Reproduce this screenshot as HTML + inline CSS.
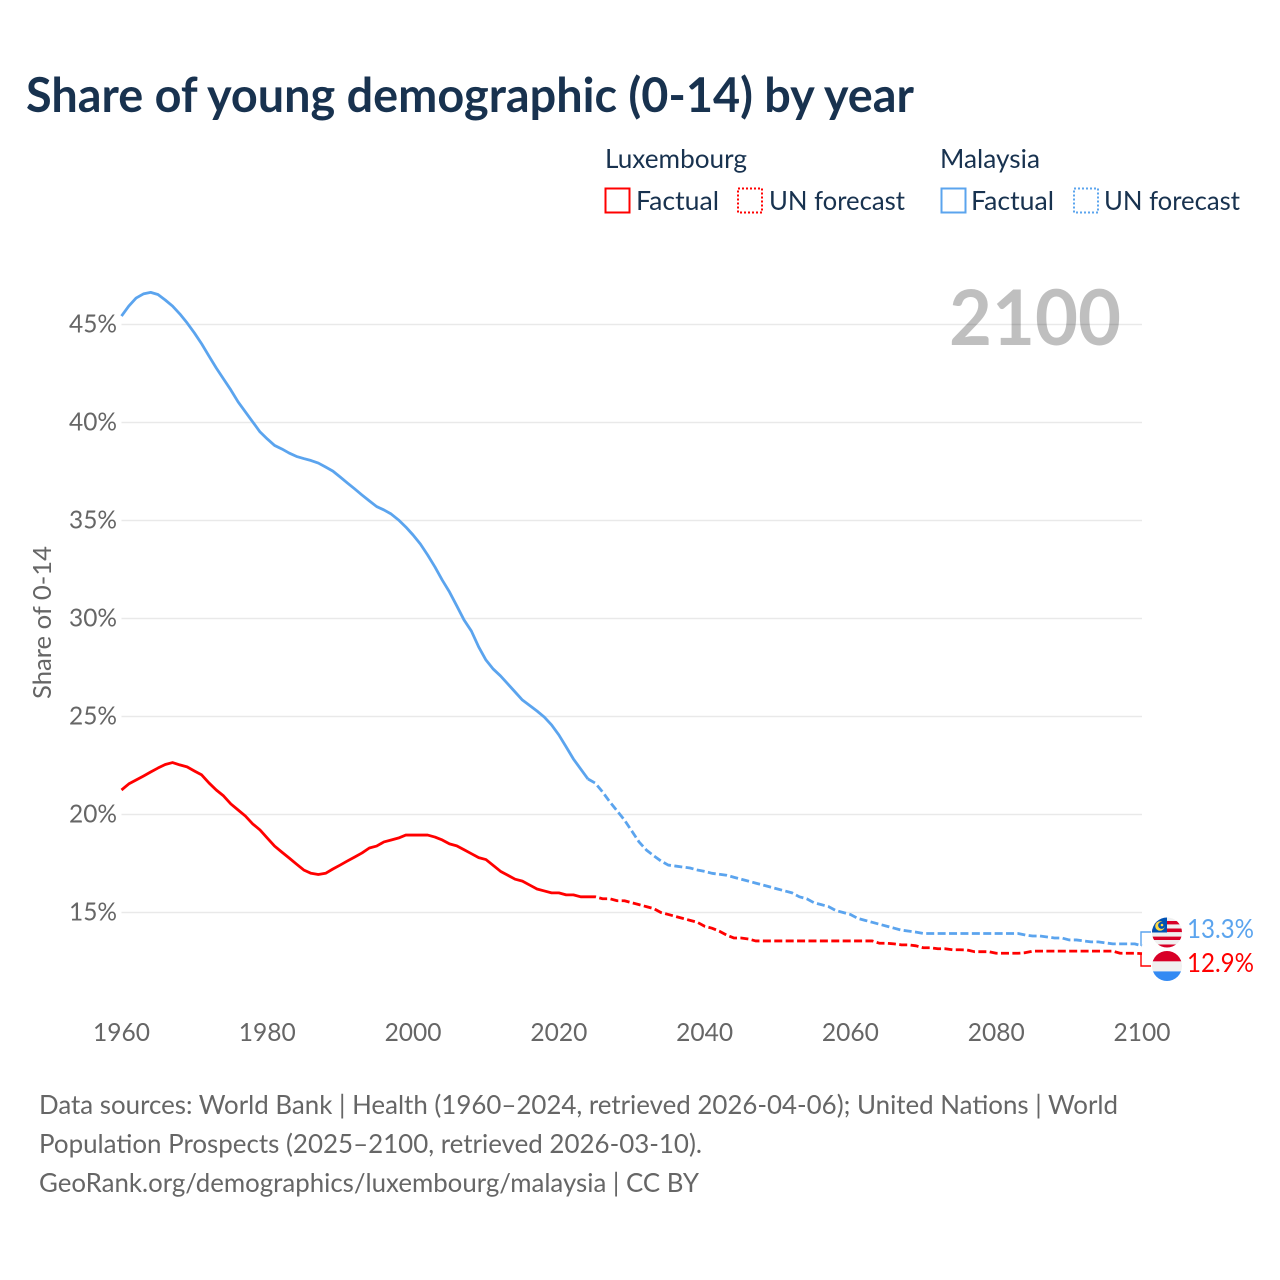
<!DOCTYPE html>
<html lang="en">
<head>
<meta charset="utf-8">
<title>Share of young demographic (0-14) by year</title>
<style>
html,body{margin:0;padding:0;background:#fff;width:1280px;height:1280px;overflow:hidden}
svg{display:block}
text{font-family:"Lato","Carlito","Liberation Sans",sans-serif}
.title{font-weight:700;font-size:48px;fill:#18324f}
.legend{font-size:26px;fill:#18324f}
.tick{font-size:25px;fill:#666}
.foot{font-size:26px;fill:#666}
.grid{stroke:#e9e9e9;stroke-width:1.6}
.line{fill:none;stroke-width:2.8;stroke-linejoin:round}
</style>
</head>
<body>
<svg id="chart" width="1280" height="1280" viewBox="0 0 1280 1280" xmlns="http://www.w3.org/2000/svg">
  <defs>
    <clipPath id="clip-my"><circle cx="1167" cy="932.5" r="15"/></clipPath>
    <clipPath id="clip-lu"><circle cx="1167" cy="966" r="15"/></clipPath>
  </defs>
  <rect width="1280" height="1280" fill="#fff"/>

  <text class="title" x="26" y="112" textLength="888" lengthAdjust="spacingAndGlyphs">Share of young demographic (0-14) by year</text>

  <g>
    <text class="legend" x="605" y="168" textLength="142" lengthAdjust="spacingAndGlyphs">Luxembourg</text>
    <rect x="605.5" y="188.5" width="24" height="24" fill="none" stroke="#ff0000" stroke-width="2"/>
    <text class="legend" x="636" y="210" textLength="83" lengthAdjust="spacingAndGlyphs">Factual</text>
    <rect x="738" y="188.5" width="24" height="24" fill="none" stroke="#ff0000" stroke-width="2" stroke-dasharray="2 2"/>
    <text class="legend" x="769" y="210" textLength="136" lengthAdjust="spacingAndGlyphs">UN forecast</text>
    <text class="legend" x="940" y="168" textLength="100" lengthAdjust="spacingAndGlyphs">Malaysia</text>
    <rect x="941.5" y="188.5" width="24" height="24" fill="none" stroke="#5ba4ee" stroke-width="2"/>
    <text class="legend" x="971" y="210" textLength="83" lengthAdjust="spacingAndGlyphs">Factual</text>
    <rect x="1074" y="188.5" width="24" height="24" fill="none" stroke="#5ba4ee" stroke-width="2" stroke-dasharray="2 2"/>
    <text class="legend" x="1104" y="210" textLength="136" lengthAdjust="spacingAndGlyphs">UN forecast</text>
  </g>

  <g id="grid"></g>
  <text x="1121" y="345" text-anchor="end" textLength="172" lengthAdjust="spacingAndGlyphs" font-size="77" font-weight="700" fill="#000" fill-opacity="0.25">2100</text>
  <g id="y-ticks"></g>
  <g id="x-ticks"></g>
  <text class="tick" transform="translate(51,622.5) rotate(-90)" text-anchor="middle" textLength="153" lengthAdjust="spacingAndGlyphs" fill="#777">Share of 0-14</text>

  <g id="series"></g>

  <g>
    <path id="conn-my" fill="none" stroke="#5ba4ee" stroke-width="1.4"/>
    <path id="conn-lu" fill="none" stroke="#ff0000" stroke-width="1.4"/>
  </g>

  <g clip-path="url(#clip-my)">
    <rect x="1152" y="917" width="30" height="31" fill="#f0f0f0"/>
    <rect x="1152" y="921" width="30" height="3.4" fill="#d80027"/>
    <rect x="1152" y="928.5" width="30" height="3.6" fill="#d80027"/>
    <rect x="1152" y="936.6" width="30" height="3.4" fill="#d80027"/>
    <rect x="1152" y="944.5" width="30" height="3.4" fill="#d80027"/>
    <rect x="1152" y="917" width="15" height="15.5" fill="#0052b4"/>
    <circle cx="1160" cy="926" r="4.8" fill="#ffda44"/>
    <circle cx="1161.6" cy="925.4" r="3.5" fill="#0052b4"/>
    <circle cx="1162" cy="925" r="1.3" fill="#ffda44"/>
  </g>
  <g clip-path="url(#clip-lu)">
    <rect x="1152" y="951" width="30" height="10.4" fill="#d80027"/>
    <rect x="1152" y="961.4" width="30" height="10" fill="#f0f0f0"/>
    <rect x="1152" y="971.4" width="30" height="10" fill="#338af3"/>
  </g>

  <text x="1187" y="938" font-size="26" fill="#5ba4ee" textLength="67" lengthAdjust="spacingAndGlyphs">13.3%</text>
  <text x="1187" y="972" font-size="26" fill="#ff0000" textLength="67" lengthAdjust="spacingAndGlyphs">12.9%</text>

  <g>
    <text class="foot" x="39" y="1114" textLength="1079" lengthAdjust="spacingAndGlyphs">Data sources: World Bank | Health (1960–2024, retrieved 2026-04-06); United Nations | World</text>
    <text class="foot" x="39" y="1153" textLength="663" lengthAdjust="spacingAndGlyphs">Population Prospects (2025–2100, retrieved 2026-03-10).</text>
    <text class="foot" x="39" y="1192" textLength="660" lengthAdjust="spacingAndGlyphs">GeoRank.org/demographics/luxembourg/malaysia | CC BY</text>
  </g>
</svg>
<script>
const xTickYears = [1960, 1980, 2000, 2020, 2040, 2060, 2080, 2100];
const yTickValues = [15, 20, 25, 30, 35, 40, 45];
const yTickLabels = ['15%', '20%', '25%', '30%', '35%', '40%', '45%'];

const factualStartYear = 1960;
const forecastStartYear = 2024;

const malaysiaFactual = [
  45.43,45.94,46.35,46.56,46.64,46.53,46.25,45.94,45.54,45.08,
  44.57,44.01,43.39,42.78,42.22,41.66,41.05,40.54,40.03,39.52,
  39.16,38.83,38.65,38.44,38.27,38.16,38.06,37.93,37.73,37.52,
  37.22,36.91,36.61,36.30,36.00,35.71,35.54,35.33,35.03,34.67,
  34.26,33.80,33.24,32.63,31.96,31.35,30.64,29.92,29.36,28.55,
  27.88,27.42,27.07,26.66,26.25,25.84,25.56,25.28,24.97,24.57,
  24.06,23.45,22.83,22.32,21.81
];
const malaysiaForecast = [
  21.81,21.6,21.15,20.64,20.18,19.72,
  19.16,18.6,18.19,17.9,17.63,17.42,17.37,17.32,17.27,17.17,
  17.1,17.0,16.95,16.9,16.8,16.7,16.6,16.5,16.4,16.3,
  16.2,16.1,16.0,15.8,15.7,15.5,15.4,15.3,15.1,15.0,
  14.9,14.7,14.6,14.5,14.4,14.3,14.2,14.1,14.05,14.0,
  13.93,13.93,13.93,13.93,13.93,13.93,13.93,13.93,13.93,13.93,
  13.93,13.93,13.93,13.93,13.85,13.8,13.8,13.75,13.7,13.7,
  13.6,13.6,13.55,13.5,13.5,13.45,13.4,13.4,13.4,13.4,
  13.3
];
const luxembourgFactual = [
  21.25,21.56,21.76,21.96,22.17,22.37,22.55,22.65,22.53,22.43,
  22.22,22.02,21.61,21.25,20.95,20.54,20.23,19.92,19.52,19.21,
  18.8,18.39,18.08,17.78,17.47,17.17,17.0,16.94,17.0,17.22,
  17.42,17.63,17.83,18.04,18.29,18.39,18.6,18.7,18.8,18.95,
  18.95,18.95,18.95,18.85,18.7,18.5,18.4,18.2,18.0,17.8,
  17.7,17.4,17.1,16.9,16.7,16.6,16.4,16.2,16.1,16.0,
  16.0,15.9,15.9,15.8,15.8
];
const luxembourgForecast = [
  15.8,15.8,15.7,15.7,15.6,15.6,
  15.5,15.4,15.3,15.2,15.0,14.9,14.8,14.7,14.6,14.5,
  14.3,14.2,14.05,13.85,13.7,13.7,13.65,13.55,13.55,13.55,
  13.55,13.55,13.55,13.55,13.55,13.55,13.55,13.55,13.55,13.55,
  13.55,13.55,13.55,13.55,13.43,13.43,13.4,13.35,13.35,13.3,
  13.2,13.2,13.15,13.15,13.1,13.1,13.09,13.0,13.0,13.0,
  12.92,12.92,12.92,12.92,12.95,13.03,13.03,13.03,13.03,13.03,
  13.03,13.03,13.03,13.03,13.03,13.03,13.03,12.92,12.92,12.92,
  12.9
];

const NS = 'http://www.w3.org/2000/svg';
const plotLeft = 121.5, plotRight = 1142;
function xScale(year) { return plotLeft + (year - 1960) * (plotRight - plotLeft) / 140; }
function yScale(value) { return 912.5 - (value - 15) * 19.6; }
function pathFrom(values, startYear) {
  return values.map(function (v, i) {
    return (i ? 'L' : 'M') + xScale(startYear + i).toFixed(2) + ' ' + yScale(v).toFixed(2);
  }).join(' ');
}

const gridGroup = document.getElementById('grid');
const yTickGroup = document.getElementById('y-ticks');
const xTickGroup = document.getElementById('x-ticks');
const seriesGroup = document.getElementById('series');

yTickValues.forEach(function (value, i) {
  const line = document.createElementNS(NS, 'line');
  line.setAttribute('class', 'grid');
  line.setAttribute('x1', plotLeft);
  line.setAttribute('x2', plotRight);
  line.setAttribute('y1', yScale(value));
  line.setAttribute('y2', yScale(value));
  
  
  gridGroup.appendChild(line);

  const label = document.createElementNS(NS, 'text');
  label.setAttribute('class', 'tick');
  label.setAttribute('x', 117);
  label.setAttribute('y', yScale(value) + 8);
  label.setAttribute('text-anchor', 'end');
  label.setAttribute('textLength', 48);
  label.setAttribute('lengthAdjust', 'spacingAndGlyphs');
  
  
  label.textContent = yTickLabels[i];
  yTickGroup.appendChild(label);
});

xTickYears.forEach(function (year) {
  const label = document.createElementNS(NS, 'text');
  label.setAttribute('class', 'tick');
  label.setAttribute('x', xScale(year));
  label.setAttribute('y', 1041);
  label.setAttribute('text-anchor', 'middle');
  label.setAttribute('textLength', 57);
  label.setAttribute('lengthAdjust', 'spacingAndGlyphs');
  
  
  label.textContent = year;
  xTickGroup.appendChild(label);
});

function addLine(values, startYear, color, dashed, name) {
  const path = document.createElementNS(NS, 'path');
  path.setAttribute('class', 'line');
  path.setAttribute('d', pathFrom(values, startYear));
  path.setAttribute('stroke', color);
  if (dashed) path.setAttribute('stroke-dasharray', '8 3.4');
  
  
  seriesGroup.appendChild(path);
}
addLine(malaysiaFactual, factualStartYear, '#5ba4ee', false, 'line-malaysia-factual');
addLine(malaysiaForecast, forecastStartYear, '#5ba4ee', true, 'line-malaysia-forecast');
addLine(luxembourgFactual, factualStartYear, '#ff0000', false, 'line-luxembourg-factual');
addLine(luxembourgForecast, forecastStartYear, '#ff0000', true, 'line-luxembourg-forecast');

const lastMy = malaysiaForecast[malaysiaForecast.length - 1];
const lastLu = luxembourgForecast[luxembourgForecast.length - 1];
document.getElementById('conn-my').setAttribute('d', 'M1141 ' + yScale(lastMy) + ' L1141 932 L1151 932');
document.getElementById('conn-lu').setAttribute('d', 'M1141 ' + yScale(lastLu) + ' L1141 966 L1151 966');
</script>
</body>
</html>
